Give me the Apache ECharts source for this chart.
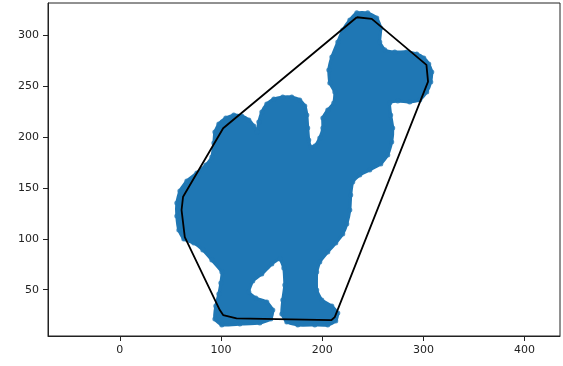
<!DOCTYPE html>
<html>
<head>
<meta charset="utf-8">
<script src="https://cdn.jsdelivr.net/npm/echarts@6/dist/echarts.min.js"></script>
<style>
html,body{margin:0;padding:0;background:#fff;}
#chart{width:563px;height:366px;}
</style>
</head>
<body>
<div id="chart"></div>
<script>
// Camel silhouette outline (data units)
const camelX = [227.3,234.2,245.0,253.9,257.9,256.9,261.8,271.7,283.6,293.4,300.4,305.3,308.3,307.3,303.3,296.4,286.5,274.7,266.8,267.7,269.7,268.7,264.8,257.9,247.0,237.1,230.2,228.2,227.3,224.3,220.3,213.4,205.5,197.6,194.6,194.6,199.6,209.5,215.4,213.4,205.5,192.7,175.9,165.0,160.1,161.0,163.0,162.0,158.1,150.2,140.3,131.4,127.5,134.4,145.2,151.2,149.2,138.3,118.6,100.8,93.9,94.8,97.8,99.8,100.8,90.9,82.0,73.1,63.2,58.3,56.3,56.3,59.3,66.2,76.1,85.0,90.9,92.9,93.9,97.8,104.7,112.6,120.5,127.5,132.4,135.4,137.3,140.3,145.2,152.2,161.0,169.9,177.8,182.8,184.8,185.7,186.7,188.7,192.7,197.6,200.6,200.6,205.5,211.4,212.4,207.5,206.5,209.5,215.4,220.3];
const camelY = [315.4,322.3,322.3,317.3,307.5,293.7,285.9,283.9,283.9,281.9,278.0,272.1,264.2,254.4,244.5,236.7,234.7,235.7,233.7,221.9,209.1,195.3,182.5,173.7,167.8,162.9,156.0,143.2,128.4,114.6,104.8,95.9,87.1,77.2,67.4,49.7,39.9,33.9,27.1,19.2,15.3,15.3,15.3,18.2,26.1,39.9,54.6,71.3,80.2,75.3,65.4,58.5,47.7,41.8,37.9,30.0,21.2,17.2,16.2,15.3,21.2,33.9,45.8,56.6,67.4,79.2,89.1,95.9,99.9,108.7,122.5,135.3,147.1,156.9,164.8,172.7,180.6,194.3,205.2,213.0,218.9,221.9,220.9,217.0,211.1,205.2,215.0,224.8,232.7,237.6,239.6,239.6,236.7,230.7,221.9,209.1,197.3,190.4,191.4,199.3,209.1,218.9,226.8,233.7,244.5,253.4,266.2,279.0,293.7,305.5];

// Convex hull vertices
const hullX = [234.2,249.0,303.0,304.6,212.4,209.2,115.3,102.1,98.8,64.2,61.0,62.5,102.1];
const hullY = [318.0,316.4,271.1,254.7,23.1,20.2,21.8,25.1,30.0,101.8,128.4,141.5,208.8];

// Tick labels
const xTicks = [0,100,200,300,400];
const yTicks = [50,100,150,200,250,300];

const camelPts = camelX.map((x,i)=>[x,camelY[i]]);
const hullPts = hullX.map((x,i)=>[x,hullY[i]]);
hullPts.push(hullPts[0]);

const chart = echarts.init(document.getElementById('chart'), null, {renderer:'canvas'});
const blue = '#1f77b4';
const txt = {fontFamily:'DejaVu Sans', fontSize:11, color:'#222'};

chart.setOption({
  animation:false,
  backgroundColor:'#fff',
  grid:{left:48, right:3, top:3, bottom:30, show:true, borderColor:'#222', borderWidth:1, backgroundColor:'transparent'},
  xAxis:{
    type:'value', min:-71, max:435,
    axisLine:{show:true, onZero:false, lineStyle:{color:'#222', width:1}},
    splitLine:{show:false},
    axisTick:{show:true, length:5, customValues:xTicks, lineStyle:{color:'#222'}},
    axisLabel:Object.assign({margin:9, customValues:xTicks}, txt)
  },
  yAxis:{
    type:'value', min:4.5, max:332,
    axisLine:{show:true, onZero:false, lineStyle:{color:'#222', width:1}},
    splitLine:{show:false},
    axisTick:{show:true, length:5, customValues:yTicks, lineStyle:{color:'#222'}},
    axisLabel:Object.assign({margin:9, customValues:yTicks}, txt)
  },
  series:[
    {
      type:'custom',
      data:[[0]],
      silent:true,
      z:2,
      renderItem:function(params, api){
        const pts = camelPts.map(p=>api.coord(p));
        return {type:'polygon', shape:{points:pts, smooth:0.15}, style:{fill:blue, stroke:blue, lineWidth:3, lineJoin:'round'}};
      }
    },
    {
      type:'scatter',
      data:camelPts,
      symbolSize:5,
      itemStyle:{color:blue},
      z:3,
      silent:true
    },
    {
      type:'line',
      data:hullPts,
      symbol:'none',
      lineStyle:{color:'#000', width:1.8},
      z:5,
      silent:true
    }
  ]
});
</script>
</body>
</html>
